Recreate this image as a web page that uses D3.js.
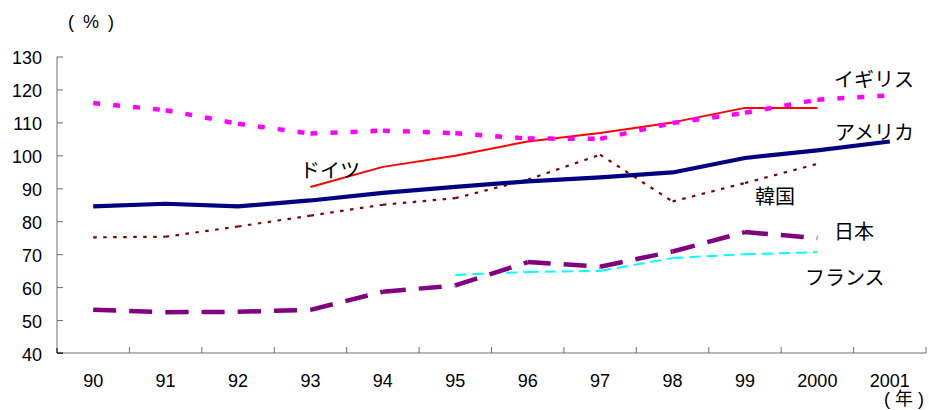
<!DOCTYPE html>
<html>
<head>
<meta charset="utf-8">
<script src="https://cdn.jsdelivr.net/npm/d3@7"></script>
<style>
  html, body { margin: 0; padding: 0; background: #fff; }
  svg { display: block; }
  text { fill: #000; }
</style>
</head>
<body>
<svg id="chart" width="929" height="410"></svg>
<script>
// Years on the horizontal axis
const years = ["90", "91", "92", "93", "94", "95", "96", "97", "98", "99", "2000", "2001"];
// Vertical axis ticks (%)
const yTicks = [40, 50, 60, 70, 80, 90, 100, 110, 120, 130];

// Series values (%), null where no value
const america = [84.5, 85.3, 84.5, 86.3, 88.6, 90.4, 92.1, 93.3, 94.8, 99.2, 101.5, 104.2];
const uk      = [115.9, 113.7, 109.6, 106.6, 107.5, 106.7, 105.1, 105.0, 109.8, 112.9, 116.9, 118.2];
const germany = [null, null, null, 90.4, 96.5, 99.9, 104.2, 106.8, 110.0, 114.4, 114.4, null];
const korea   = [75.1, 75.3, 78.4, 81.7, 85.0, 87.0, 92.6, 100.2, 86.0, 91.6, 97.4, null];
const japan   = [53.1, 52.4, 52.5, 53.1, 58.6, 60.5, 67.6, 66.2, 70.8, 76.7, 74.9, null];
const france  = [null, null, null, null, null, 63.7, 64.6, 64.9, 68.8, 70.0, 70.6, null];

const seriesNames = ["アメリカ", "イギリス", "ドイツ", "韓国", "日本", "フランス"];

const svg = d3.select("#chart");

const x = d3.scaleBand().domain(years).range([57, 926]).paddingInner(0).paddingOuter(0);
const y = d3.scaleLinear().domain([40, 130]).range([353, 56.5]);
const cx = d => x(d) + x.bandwidth() / 2;

const axisColor = "#6e6e6e";
const latin = "'Liberation Sans', Arial, 'Noto Sans CJK JP', sans-serif";
const cjk = "'Noto Sans CJK JP', sans-serif";

// Vertical axis: ticks point inward
const yAxis = d3.axisLeft(y).tickValues(yTicks).tickSize(-6).tickPadding(0).tickFormat(d3.format("d"));
const gy = svg.append("g").attr("transform", "translate(57,0)").call(yAxis);
gy.select(".domain").attr("stroke", axisColor).attr("d", `M0,${y(130)}V${y(40)}`);
gy.selectAll(".tick line").attr("stroke", axisColor);
gy.selectAll(".tick text")
  .attr("x", -15).attr("dy", null).attr("y", 7)
  .attr("text-anchor", "end")
  .style("font-family", latin).style("font-size", "18px").attr("fill", "#000");

// Horizontal axis: tick marks sit on the category boundaries, labels at centres
const gx = svg.append("g").attr("transform", `translate(0,${y(40)})`);
gx.append("path").attr("d", `M57,0H926`).attr("stroke", axisColor).attr("fill", "none");
gx.selectAll("line.tk").data(years).enter().append("line")
  .attr("class", "tk")
  .attr("x1", d => x(d) + x.bandwidth()).attr("x2", d => x(d) + x.bandwidth())
  .attr("y1", 0).attr("y2", -6)
  .attr("stroke", axisColor);
gx.selectAll("text").data(years).enter().append("text")
  .attr("x", d => cx(d)).attr("y", 34)
  .attr("text-anchor", "middle")
  .style("font-family", latin).style("font-size", "18px")
  .text(d => d);
// darker origin corner
svg.append("path").attr("d", `M57,${y(40) - 5}V${y(40)}H63`).attr("stroke", "#000").attr("fill", "none");

// Unit captions
svg.append("text").attr("x", 68).attr("y", 28)
  .style("font-family", latin).style("font-size", "18px").style("letter-spacing", "2px")
  .text("( % )");
svg.append("text").attr("x", 884).attr("y", 405)
  .style("font-family", latin).style("font-size", "18px")
  .text("( 年 )");

// Lines
const plot = svg.append("g");
const pts = vals => years.map((yr, i) => ({ yr, v: vals[i] }));

function solid(vals, color, width) {
  const line = d3.line().defined(d => d.v != null).x(d => cx(d.yr)).y(d => y(d.v));
  plot.append("path").datum(pts(vals))
    .attr("d", line).attr("fill", "none")
    .attr("stroke", color).attr("stroke-width", width)
    .attr("stroke-linejoin", "round");
}

// Dashed series restart their pattern at every data point
function dashed(vals, color, width, dash) {
  const p = pts(vals);
  const segs = d3.pairs(p).filter(([a, b]) => a.v != null && b.v != null);
  plot.append("g").selectAll("line").data(segs).enter().append("line")
    .attr("x1", d => cx(d[0].yr)).attr("y1", d => y(d[0].v))
    .attr("x2", d => cx(d[1].yr)).attr("y2", d => y(d[1].v))
    .attr("stroke", color).attr("stroke-width", width)
    .attr("stroke-dasharray", dash).attr("stroke-linecap", "butt");
}

dashed(france, "#00ffff", 2, "11,6");
dashed(korea, "#800000", 2.2, "3.5,6.5");
dashed(japan, "#800080", 4.5, "23,13");
solid(germany, "#ff0000", 2);
dashed(uk, "#ff00ff", 4.5, "7,13");
solid(america, "#000080", 4.2);

// Series labels
const labelPos = [
  { name: seriesNames[1], x: 834, y: 87 },
  { name: seriesNames[0], x: 835, y: 140 },
  { name: seriesNames[2], x: 300, y: 177.5 },
  { name: seriesNames[3], x: 755, y: 204 },
  { name: seriesNames[4], x: 834, y: 238.5 },
  { name: seriesNames[5], x: 805, y: 284.5 }
];
svg.append("g").selectAll("text").data(labelPos).enter().append("text")
  .attr("x", d => d.x).attr("y", d => d.y)
  .style("font-family", cjk).style("font-size", "20px")
  .text(d => d.name);
</script>
</body>
</html>
